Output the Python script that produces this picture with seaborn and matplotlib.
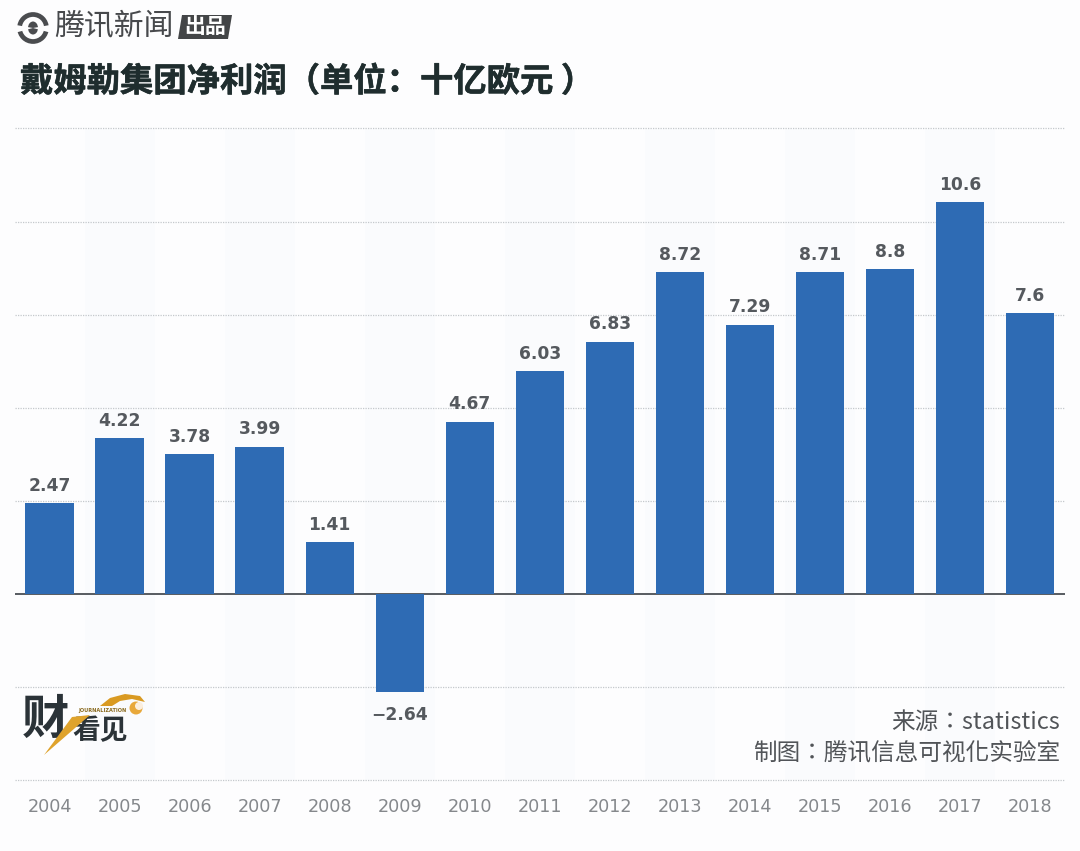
import matplotlib
matplotlib.use('Agg')
import matplotlib.pyplot as plt
import matplotlib.patches as mpatches
import matplotlib.patheffects as pe
import seaborn as sns

# data
anos = ['2004', '2005', '2006', '2007', '2008', '2009', '2010', '2011',
        '2012', '2013', '2014', '2015', '2016', '2017', '2018']
lucro = [2.47, 4.22, 3.78, 3.99, 1.41, -2.64, 4.67, 6.03,
         6.83, 8.72, 7.29, 8.71, 8.8, 10.6, 7.6]
rotulos = ['2.47', '4.22', '3.78', '3.99', '1.41', '−2.64', '4.67', '6.03',
           '6.83', '8.72', '7.29', '8.71', '8.8', '10.6', '7.6']
grade = [-5.03, -2.515, 2.515, 5.03, 7.545, 10.06, 12.6]

titulo = '戴姆勒集团净利润（单位：十亿欧元 ）'
fonte = '来源：statistics'
autor = '制图：腾讯信息可视化实验室'

W, H = 1080, 851
FUNDO = '#fdfdfe'

sns.set_theme(style='white')
plt.rcParams['font.family'] = ['Noto Sans CJK SC', 'DejaVu Sans']

fig = plt.figure(figsize=(W / 100, H / 100), dpi=100, facecolor=FUNDO)
ax = fig.add_axes([14.5 / W, 1 - 780 / H, 1050.6 / W, 651.5 / H], facecolor=FUNDO)

# alternating background bands
for i in range(1, len(anos), 2):
    ax.axvspan(i - 0.5, i + 0.5, color='#fafbfd', lw=0, zorder=0)

sns.barplot(x=anos, y=lucro, color='#2e6bb4', width=0.69, saturation=1, ax=ax, zorder=3,
            linewidth=0, edgecolor='none')

ax.set_xlim(-0.5, 14.5)
ax.set_ylim(-5.03, 12.6)

for g in grade:
    ax.axhline(g, color='#c4c8cc', lw=0.9, ls=(0, (1, 1)), zorder=1, clip_on=False)
ax.axhline(0, color='#4a4f54', lw=1.3, zorder=2)

# the negative label sits lower than the positive ones
barras = ax.containers[0]
textos = ax.bar_label(barras, labels=rotulos, padding=6, fontsize=12.3, fontweight='bold',
                      color='#55595e', family='DejaVu Sans')
textos[5].xyann = (0, -10)

ax.set_yticks([])
ax.set_xlabel('')
ax.set_ylabel('')
ax.tick_params(axis='x', length=0, pad=13)
for t in ax.get_xticklabels():
    t.set_fontfamily('DejaVu Sans')
    t.set_fontsize(12.7)
    t.set_color('#85888c')
sns.despine(ax=ax, left=True, bottom=True)


def fx(x):
    return x / W


def fy(y):
    return 1 - y / H


# title and source notes
fig.text(fx(20), fy(82), titulo, fontsize=24, fontweight='bold', color='#1f2d2e', va='center',
         path_effects=[pe.withStroke(linewidth=0.4, foreground='#1f2d2e')])
fig.text(fx(1060), fy(722.5), fonte, fontsize=17, color='#515458', ha='right', va='center',
         family='Noto Sans CJK TC')
fig.text(fx(1060), fy(752.5), autor, fontsize=17, color='#515458', ha='right', va='center',
         family='Noto Sans CJK TC')

# overlay axes in pixel coordinates for the two logos
lay = fig.add_axes([0, 0, 1, 1], facecolor='none')
lay.set_xlim(0, W)
lay.set_ylim(H, 0)
lay.axis('off')

# top logo
CINZA = '#4a4c4f'
lay.add_patch(mpatches.Circle((33, 28), 13.5, fc='none', ec=CINZA, lw=3.4))
lay.add_patch(mpatches.Ellipse((33, 28), 10, 13, fc=CINZA, ec='none'))
lay.add_patch(mpatches.Wedge((33, 28), 17, 165, 190, fc=FUNDO, ec='none'))
lay.add_patch(mpatches.Wedge((33, 28), 17, 350, 15, fc=FUNDO, ec='none'))
lay.text(54, 27, '腾讯新闻', fontsize=21.5, color='#47494c', va='center')
lay.add_patch(mpatches.Polygon([[182, 15], [232, 15], [228, 39], [178, 39]], fc='#434547', ec='none'))
lay.text(205, 26.5, '出品', fontsize=15, color='white', va='center', ha='center', fontweight='bold')

# bottom logo
ESCURO = '#2b3338'
lay.text(22, 720, '财', fontsize=34, color=ESCURO, va='center', fontweight='black')
lay.text(72, 731, '看见', fontsize=20, color=ESCURO, va='center', fontweight='black')
lay.add_patch(mpatches.Polygon([[44, 755], [90, 715], [72, 717]], fc='#dfa32c', ec='none', zorder=4))
lay.add_patch(mpatches.Polygon([[100, 706], [110, 698], [125, 694], [140, 696], [145, 702],
                                [132, 699], [120, 701], [112, 706]], fc='#d99a22', ec='none'))
lay.add_patch(mpatches.Circle((136, 708), 6.5, fc='#e8a83a', ec='none'))
lay.add_patch(mpatches.Circle((139, 706), 4, fc='#fbeedd', ec='none'))
lay.text(102, 710.5, 'JOURNALIZATION', fontsize=3.6, color='#8a6a1e', va='center', ha='center',
         fontweight='bold', family='DejaVu Sans')

fig.savefig('out.png', dpi=100, facecolor=FUNDO)
